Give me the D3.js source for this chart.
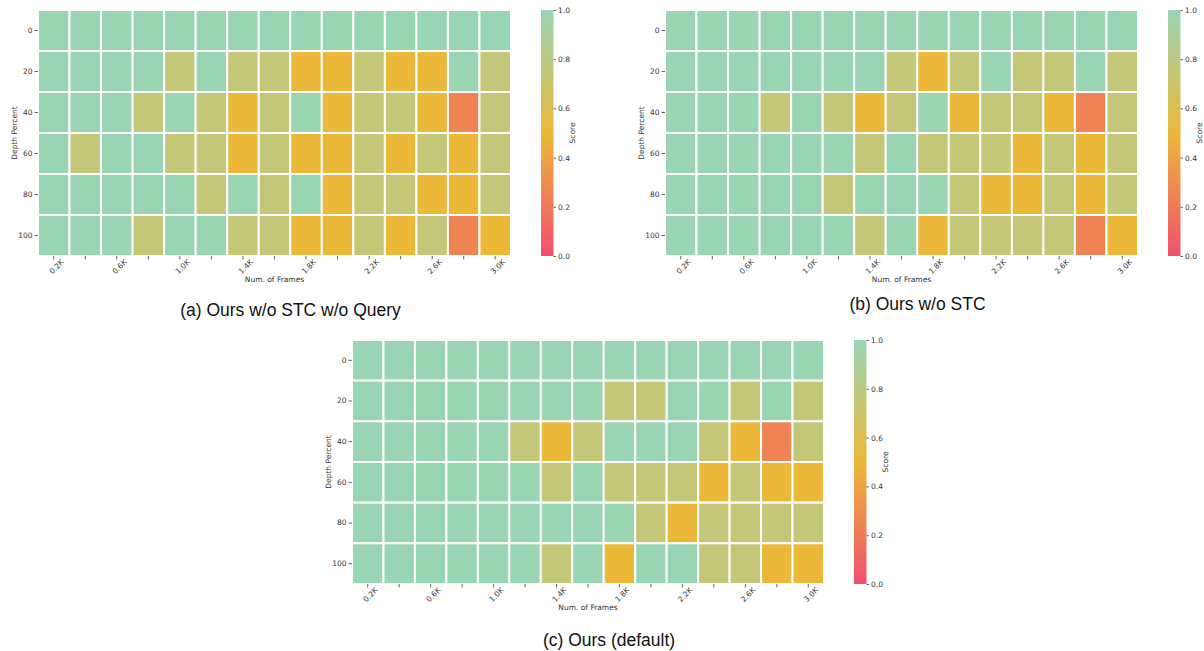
<!DOCTYPE html>
<html>
<head>
<meta charset="utf-8">
<script src="https://cdn.jsdelivr.net/npm/d3@7"></script>
<style>
  body { margin: 0; background: #fff; }
  svg { display: block; }
  .tick text { font-family: "DejaVu Sans", sans-serif; font-size: 7.5px; fill: #333; }
  .tick line { stroke: #666; }
  .domain { display: none; }
  .axlabel { font-family: "DejaVu Sans", sans-serif; font-size: 7.5px; fill: #333; }
  .title { font-family: "Liberation Sans", Arial, sans-serif; font-size: 17.5px; fill: #111; }
</style>
</head>
<body>
<svg width="1204" height="651"></svg>
<script>
const frames = ['0.2K', '0.4K', '0.6K', '0.8K', '1.0K', '1.2K', '1.4K', '1.6K', '1.8K', '2.0K', '2.2K', '2.4K', '2.6K', '2.8K', '3.0K']
const depths = [0, 20, 40, 60, 80, 100]

// one row per depth, one value per frame count
const scoresNoStcNoQuery = [
  [1, 1, 1, 1, 1, 1, 1, 1, 1, 1, 1, 1, 1, 1, 1],
  [1, 1, 1, 1, 0.75, 1, 0.75, 0.75, 0.5, 0.5, 0.75, 0.5, 0.5, 1, 0.75],
  [1, 1, 1, 0.75, 1, 0.75, 0.5, 0.75, 1, 0.5, 0.75, 0.75, 0.5, 0.25, 0.75],
  [1, 0.75, 1, 1, 0.75, 0.75, 0.5, 0.75, 0.5, 0.5, 0.75, 0.5, 0.75, 0.5, 0.75],
  [1, 1, 1, 1, 1, 0.75, 1, 0.75, 1, 0.5, 0.75, 0.75, 0.5, 0.5, 0.75],
  [1, 1, 1, 0.75, 1, 1, 0.75, 0.75, 0.5, 0.5, 0.75, 0.5, 0.75, 0.25, 0.5]
]
const scoresNoStc = [
  [1, 1, 1, 1, 1, 1, 1, 1, 1, 1, 1, 1, 1, 1, 1],
  [1, 1, 1, 1, 1, 1, 1, 0.75, 0.5, 0.75, 1, 0.75, 0.75, 1, 0.75],
  [1, 1, 1, 0.75, 1, 0.75, 0.5, 0.75, 1, 0.5, 0.75, 0.75, 0.5, 0.25, 0.75],
  [1, 1, 1, 1, 1, 1, 0.75, 1, 0.75, 0.75, 0.75, 0.5, 0.75, 0.5, 0.75],
  [1, 1, 1, 1, 1, 0.75, 1, 1, 1, 0.75, 0.5, 0.5, 0.75, 0.5, 0.75],
  [1, 1, 1, 1, 1, 1, 0.75, 1, 0.5, 0.75, 0.75, 0.75, 0.75, 0.25, 0.5]
]
const scoresDefault = [
  [1, 1, 1, 1, 1, 1, 1, 1, 1, 1, 1, 1, 1, 1, 1],
  [1, 1, 1, 1, 1, 1, 1, 1, 0.75, 0.75, 1, 1, 0.75, 1, 0.75],
  [1, 1, 1, 1, 1, 0.75, 0.5, 0.75, 1, 1, 1, 0.75, 0.5, 0.25, 0.75],
  [1, 1, 1, 1, 1, 1, 0.75, 1, 0.75, 0.75, 0.75, 0.5, 0.75, 0.5, 0.5],
  [1, 1, 1, 1, 1, 1, 1, 1, 1, 0.75, 0.5, 0.75, 0.75, 0.75, 0.75],
  [1, 1, 1, 1, 1, 1, 0.75, 1, 0.5, 1, 1, 0.75, 0.75, 0.5, 0.5]
]
const colorbarTicks = [0, 0.2, 0.4, 0.6, 0.8, 1.0]

const color = d3.scaleLinear()
  .domain([0, 0.5, 1])
  .range(['#f0506e', '#ebb83a', '#9ad5b3'])
  .interpolate(d3.interpolateRgb)

const svg = d3.select('svg')

const panels = [
  { id: 'a', data: scoresNoStcNoQuery, title: '(a) Ours w/o STC w/o Query', x: 38, y: 10, w: 473, h: 246, titleY: 316 },
  { id: 'b', data: scoresNoStc, title: '(b) Ours w/o STC', x: 665, y: 10, w: 473, h: 246, titleY: 310 },
  { id: 'c', data: scoresDefault, title: '(c) Ours (default)', x: 352, y: 340, w: 472, h: 244, titleY: 646 }
]

// gradient for the colorbars
const grad = svg.append('defs').append('linearGradient')
  .attr('id', 'cbar')
  .attr('x1', 0).attr('y1', 1).attr('x2', 0).attr('y2', 0)
grad.selectAll('stop')
  .data(d3.range(0, 1.0001, 0.05))
  .enter().append('stop')
  .attr('offset', d => d)
  .attr('stop-color', d => color(d))

panels.forEach(drawPanel)

function drawPanel(p) {
  const g = svg.append('g').attr('transform', `translate(${p.x},${p.y})`)

  const x = d3.scaleBand().domain(frames).range([0, p.w])
  const y = d3.scaleBand().domain(depths).range([0, p.h])

  const cells = p.data.flatMap((row, i) => row.map((v, j) => ({ depth: depths[i], frame: frames[j], v })))

  g.selectAll('rect.cell')
    .data(cells)
    .enter().append('rect')
    .attr('class', 'cell')
    .attr('x', d => x(d.frame))
    .attr('y', d => y(d.depth))
    .attr('width', x.bandwidth())
    .attr('height', y.bandwidth())
    .attr('fill', d => color(d.v))
    .attr('stroke', '#fff')
    .attr('stroke-width', 2)

  g.append('g')
    .call(d3.axisLeft(y).tickSize(3.5).tickPadding(2))

  const xa = g.append('g')
    .attr('transform', `translate(0,${p.h})`)
    .call(d3.axisBottom(x).tickSize(3.5).tickFormat((d, i) => i % 2 ? '' : d))
  xa.selectAll('text')
    .attr('text-anchor', 'middle')
    .attr('dy', 0)
    .attr('transform', 'translate(0,8) rotate(-45)')

  g.append('text')
    .attr('class', 'axlabel')
    .attr('x', p.w / 2)
    .attr('y', p.h + 26)
    .attr('text-anchor', 'middle')
    .text('Num. of Frames')

  g.append('text')
    .attr('class', 'axlabel')
    .attr('transform', `translate(-21,${p.h / 2}) rotate(-90)`)
    .attr('text-anchor', 'middle')
    .text('Depth Percent')

  // colorbar
  const cb = g.append('g').attr('transform', `translate(${p.w + 30},0)`)
  cb.append('rect')
    .attr('width', 12.5)
    .attr('height', p.h)
    .attr('fill', 'url(#cbar)')
  const cy = d3.scaleLinear().domain([0, 1]).range([p.h, 0])
  cb.append('g')
    .attr('transform', 'translate(12.5,0)')
    .call(d3.axisRight(cy).tickValues(colorbarTicks).tickSize(2.5).tickPadding(2).tickFormat(d3.format('.1f')))
  cb.append('text')
    .attr('class', 'axlabel')
    .attr('transform', `translate(34,${p.h / 2}) rotate(-90)`)
    .attr('text-anchor', 'middle')
    .text('Score')

  svg.append('text')
    .attr('class', 'title')
    .attr('x', p.x + p.w / 2 + (p.id === 'c' ? 21 : 16))
    .attr('y', p.titleY)
    .attr('text-anchor', 'middle')
    .text(p.title)
}
</script>
</body>
</html>
